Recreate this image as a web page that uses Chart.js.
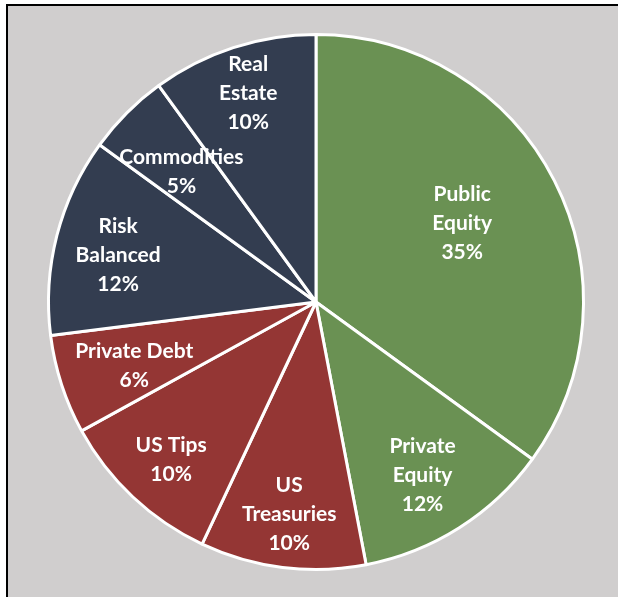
<!DOCTYPE html>
<html>
<head>
<meta charset="utf-8">
<script src="https://cdn.jsdelivr.net/npm/chart.js@4.4.1/dist/chart.umd.min.js"></script>
<style>
  html, body { margin: 0; padding: 0; background: #ffffff; overflow: hidden; }
  #panel {
    position: absolute; left: 6px; top: 4px; width: 700px; height: 700px;
    background: #d0cece; border-left: 2px solid #000; border-top: 2px solid #000;
  }
  #wrap { position: absolute; left: 0; top: 0; width: 618px; height: 597px; }
</style>
</head>
<body>
<div id="panel"></div>
<div id="wrap"><canvas id="allocationChart"></canvas></div>
<script>
// asset allocation pie

const categories = [
    ['Public', 'Equity'],
    ['Private', 'Equity'],
    ['US', 'Treasuries'],
    ['US Tips'],
    ['Private Debt'],
    ['Risk', 'Balanced'],
    ['Commodities'],
    ['Real', 'Estate']
];
const allocation = [35, 12, 10, 10, 6, 12, 5, 10];
const sliceColors = ['#6a9153', '#6a9153', '#943634', '#943634', '#943634', '#333d50', '#333d50', '#333d50'];

// where each label sits: share of the radius, and a small turn (degrees) off the slice middle
const labelRadius = [0.62, 0.76, 0.80, 0.80, 0.72, 0.76, 0.70, 0.82];
const labelTurn = [-1.2, 0.8, 0, -0.6, -1.3, -1.1, -0.95, 0];

const sliceLabels = {
    id: 'sliceLabels',
    afterDatasetsDraw(chart) {
        const ctx = chart.ctx;
        const meta = chart.getDatasetMeta(0);
        const values = chart.data.datasets[0].data;
        const total = values.reduce((a, b) => a + b, 0);
        ctx.save();
        ctx.fillStyle = '#ffffff';
        ctx.font = 'bold 21px Lato';
        ctx.textAlign = 'center';
        ctx.textBaseline = 'middle';
        const lineH = 29;
        meta.data.forEach((arc, i) => {
            const p = arc.getProps(['x', 'y', 'startAngle', 'endAngle', 'outerRadius'], true);
            const mid = (p.startAngle + p.endAngle) / 2 + labelTurn[i] * Math.PI / 180;
            const r = p.outerRadius * labelRadius[i];
            const cx = p.x + Math.cos(mid) * r;
            const cy = p.y + Math.sin(mid) * r;
            const lines = chart.data.labels[i].concat([Math.round(values[i] / total * 100) + '%']);
            const top = cy - (lines.length - 1) * lineH / 2;
            lines.forEach((t, k) => ctx.fillText(t, cx, top + k * lineH));
        });
        ctx.restore();
    }
};

new Chart(document.getElementById('allocationChart'), {
    type: 'pie',
    data: {
        labels: categories,
        datasets: [{
            data: allocation,
            backgroundColor: sliceColors,
            borderColor: '#ffffff',
            borderWidth: 3
        }]
    },
    options: {
        responsive: true,
        maintainAspectRatio: false,
        animation: false,
        layout: { padding: { left: 47, right: 33, top: 33, bottom: 26 } },
        plugins: {
            legend: { display: false },
            tooltip: { enabled: false }
        }
    },
    plugins: [sliceLabels]
});
</script>
</body>
</html>
